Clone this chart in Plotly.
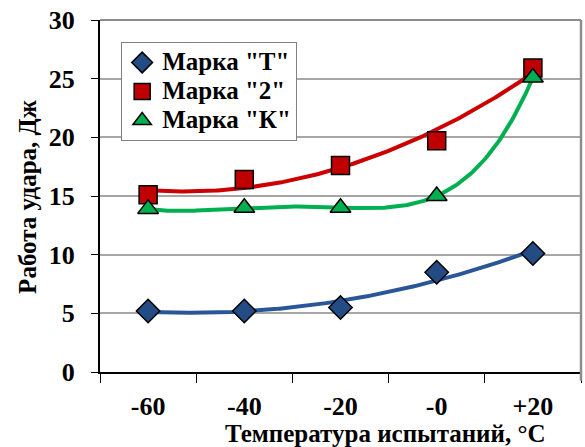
import numpy as np
import plotly.graph_objects as go

temps = [-60, -40, -20, 0, 20]
tick_labels = ["-60", "-40", "-20", "-0", "+20"]
marka_T = [5.2, 5.2, 5.5, 8.5, 10.1]
marka_2 = [15.1, 16.4, 17.6, 19.7, 25.9]
marka_K = [13.9, 14.0, 14.0, 15.0, 25.1]

series = [
    ('Марка "Т"', marka_T, "diamond", "#234C85", "#2A5597", 2),
    ('Марка "2"', marka_2, "square", "#C00000", "#CC0000", 2),
    ('Марка "К"', marka_K, "triangle-up", "#00B050", "#00B050", 4),
]

idx = np.arange(len(temps))
fine = np.linspace(0, len(temps) - 1, 200)

fig = go.Figure()
# trendlines (polynomial fits of the data)
for name, vals, sym, mcol, lcol, deg in series:
    coef = np.polyfit(idx, vals, deg)
    fig.add_trace(go.Scatter(x=fine, y=np.polyval(coef, fine), mode="lines",
                             line=dict(color=lcol, width=4), showlegend=False,
                             hoverinfo="skip"))
for name, vals, sym, mcol, lcol, deg in series:
    fig.add_trace(go.Scatter(x=idx, y=vals, mode="markers",
                             name='<span style="font-size:25px">' + name + '</span>',
                             marker=dict(symbol=sym, size=18, color=mcol,
                                         line=dict(color="black", width=1.5))))

font_fam = "Liberation Serif"
fig.update_layout(
    width=585, height=447,
    margin=dict(l=100, r=4, t=20, b=75),
    paper_bgcolor="white", plot_bgcolor="white",
    font=dict(family=font_fam, color="black"),
    legend=dict(x=0.044, y=0.9375, xanchor="left", yanchor="top",
                bgcolor="white", bordercolor="#808080", borderwidth=1,
                font=dict(size=20, family=font_fam, weight="bold"),
                tracegroupgap=0, itemwidth=30),
    xaxis=dict(range=[-0.5, 4.5], tickmode="array", tickvals=list(idx),
               ticktext=tick_labels, ticks="", showgrid=False, zeroline=False,
               showline=True, linecolor="black", linewidth=2, mirror=False,
               automargin=False, ticklabeloverflow="allow",
               tickfont=dict(size=26, family=font_fam, weight="bold"),
               ticklabelstandoff=10,
               minor=dict(tickmode="linear", tick0=-0.5, dtick=1, ticks="outside",
                          ticklen=9, tickcolor="black", tickwidth=1, showgrid=False)),
    yaxis=dict(range=[0, 30], dtick=5, ticks="outside", ticklen=7, tickcolor="black",
               showgrid=True, gridcolor="#A6A6A6", gridwidth=1.5, zeroline=False,
               showline=True, linecolor="black", linewidth=2, automargin=False,
               ticklabelstandoff=11, ticklabeloverflow="allow",
               tickfont=dict(size=26, family=font_fam, weight="bold")),
)
# grey plot-area outline on the top and right sides
fig.add_shape(type="line", xref="x domain", yref="y domain", x0=0, x1=1, y0=1, y1=1,
              line=dict(color="#8C8C8C", width=2))
fig.add_shape(type="line", xref="x domain", yref="y domain", x0=1, x1=1, y0=-0.025, y1=1,
              line=dict(color="#8C8C8C", width=2.5))
fig.add_annotation(text="Температура испытаний, °С", xref="paper", yref="paper",
                   x=0.593, y=-0.175, xanchor="center", yanchor="middle", showarrow=False,
                   font=dict(size=25, family=font_fam, weight="bold"))
fig.add_annotation(text="Работа удара, Дж", xref="paper", yref="paper", textangle=-90,
                   x=-0.152, y=0.5, xanchor="center", yanchor="middle", showarrow=False,
                   font=dict(size=25, family=font_fam, weight="bold"))

fig.write_html("out.html", config={"displayModeBar": False},
               post_script="document.body.style.margin='0';document.body.style.padding='0';")
